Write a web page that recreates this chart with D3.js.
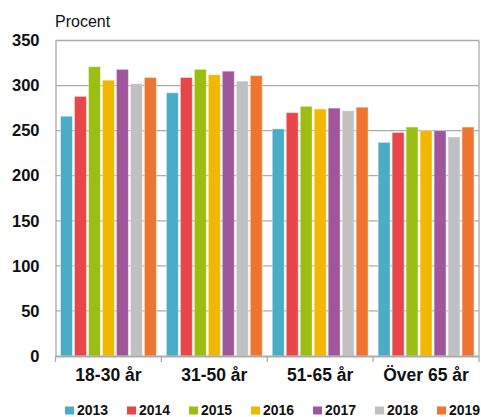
<!DOCTYPE html>
<html>
<head>
<meta charset="utf-8">
<script src="https://cdn.jsdelivr.net/npm/d3@7"></script>
<style>
  html, body { margin: 0; padding: 0; background: #fff; }
  svg { display: block; font-family: "Liberation Sans", Arial, sans-serif; }
</style>
</head>
<body>
<svg id="chart" width="481" height="417"></svg>
<script>
// Age groups and survey years
const categories = ["18-30 år", "31-50 år", "51-65 år", "Över 65 år"];
const years = ["2013", "2014", "2015", "2016", "2017", "2018", "2019"];
const colors = ["#4bacc6", "#e8474a", "#9cbe12", "#f2b700", "#a0569a", "#c0c0c2", "#ee7530"];

// Values per year, one entry per age group
const v2013 = [266, 292, 252, 237];
const v2014 = [288, 309, 270, 248];
const v2015 = [321, 318, 277, 254];
const v2016 = [306, 312, 274, 250];
const v2017 = [318, 316, 275, 250];
const v2018 = [302, 305, 272, 243];
const v2019 = [309, 311, 276, 254];
const series = [v2013, v2014, v2015, v2016, v2017, v2018, v2019];

const yTicks = [0, 50, 100, 150, 200, 250, 300, 350];

const svg = d3.select("#chart");
const plotLeft = 55.5, plotRight = 479, plotTop = 40.5, plotBottom = 356;

const x0 = d3.scaleBand().domain(categories).range([plotLeft, plotRight]).padding(0);
const x1 = d3.scaleBand().domain(years).range([5, x0.bandwidth() - 5]).paddingInner(0.143);
const y = d3.scaleLinear().domain([0, 350]).range([plotBottom, plotTop]);

const grid = "#ababab";

// Horizontal gridlines
svg.append("g")
  .selectAll("line")
  .data(yTicks.filter(t => t > 0))
  .join("line")
  .attr("x1", plotLeft).attr("x2", plotRight)
  .attr("y1", d => y(d)).attr("y2", d => y(d))
  .attr("stroke", grid).attr("stroke-width", 1.3);

// Right border of the plot
svg.append("line")
  .attr("x1", plotRight).attr("x2", plotRight).attr("y1", plotTop).attr("y2", plotBottom)
  .attr("stroke", grid).attr("stroke-width", 1.3);

// Bars
const rows = categories.map((c, i) => ({ cat: c, vals: years.map((yr, j) => ({ year: yr, value: series[j][i], color: colors[j] })) }));
svg.append("g")
  .selectAll("g")
  .data(rows)
  .join("g")
  .attr("transform", d => `translate(${x0(d.cat)},0)`)
  .selectAll("rect")
  .data(d => d.vals)
  .join("rect")
  .attr("x", d => x1(d.year))
  .attr("width", x1.bandwidth())
  .attr("y", d => y(d.value))
  .attr("height", d => y(0) - y(d.value))
  .attr("fill", d => d.color)
  .attr("stroke", "#fff")
  .attr("stroke-opacity", 0.45)
  .attr("stroke-width", 1);

// Y axis
const yAxis = svg.append("g")
  .attr("transform", `translate(${plotLeft},0)`)
  .call(d3.axisLeft(y).tickValues(yTicks).tickSize(0).tickPadding(16));
yAxis.select(".domain").attr("stroke", grid).attr("stroke-width", 1.3);
yAxis.selectAll("text")
  .attr("font-size", "16.5px").attr("font-weight", "bold").attr("fill", "#111")
  .attr("font-family", "Liberation Sans, Arial, sans-serif");

// X axis with tick marks at category boundaries
const xAxis = svg.append("g")
  .attr("transform", `translate(0,${plotBottom})`)
  .call(d3.axisBottom(x0).tickSize(0).tickPadding(13));
xAxis.select(".domain").attr("stroke", grid).attr("stroke-width", 2);
xAxis.selectAll("text")
  .attr("font-size", "17.5px").attr("font-weight", "bold").attr("fill", "#111")
  .attr("font-family", "Liberation Sans, Arial, sans-serif");
const bounds = categories.map(c => x0(c)).concat([plotRight]);
svg.append("g")
  .selectAll("line")
  .data(bounds)
  .join("line")
  .attr("x1", d => d).attr("x2", d => d)
  .attr("y1", plotBottom).attr("y2", plotBottom + 6)
  .attr("stroke", grid).attr("stroke-width", 1.3);

// Unit label
svg.append("text")
  .attr("x", 55).attr("y", 26.5)
  .attr("font-size", "16px").attr("fill", "#111")
  .text("Procent");

// Legend
const legendX = [65, 127, 189, 251, 313, 375, 437];
const legend = svg.append("g")
  .selectAll("g")
  .data(years)
  .join("g")
  .attr("transform", (d, i) => `translate(${legendX[i]},405)`);
legend.append("rect")
  .attr("width", 9).attr("height", 8).attr("y", 1.5)
  .attr("fill", (d, i) => colors[i]);
legend.append("text")
  .attr("x", 12).attr("y", 9.8)
  .attr("font-size", "14px").attr("font-weight", "bold").attr("fill", "#111")
  .text(d => d);
</script>
</body>
</html>
